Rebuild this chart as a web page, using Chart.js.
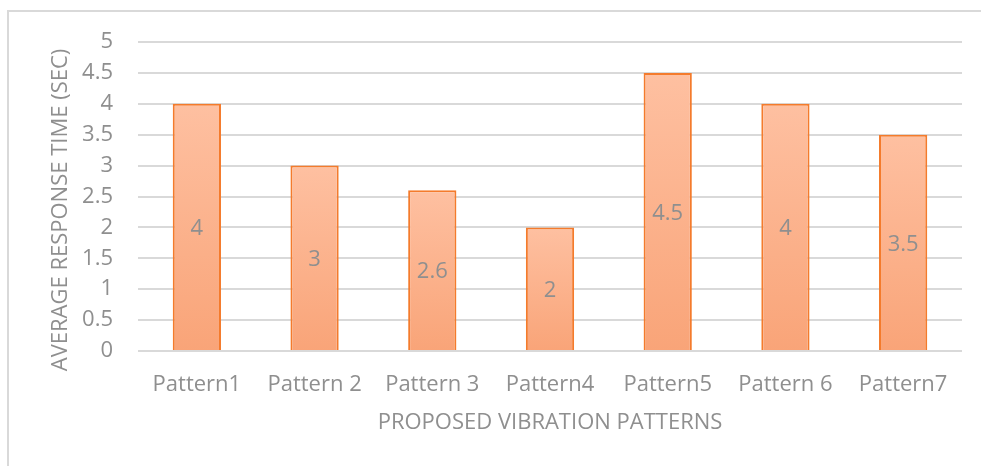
<!DOCTYPE html>
<html>
<head>
<meta charset="utf-8">
<script src="https://cdn.jsdelivr.net/npm/chart.js@4"></script>
<style>
  html, body { margin: 0; padding: 0; background: #fff; }
  #wrap { position: relative; width: 981px; height: 466px; overflow: hidden; }
  #frame { position: absolute; left: 7px; top: 10px; width: 1100px; height: 600px; border: 2px solid #d9d9d9; box-sizing: border-box; pointer-events: none; }
  canvas { position: absolute; left: 0; top: 0; }
</style>
</head>
<body>
<div id="wrap">
  <canvas id="c" width="981" height="466"></canvas>
  <div id="frame"></div>
</div>
<script>
const categories = ['Pattern1', 'Pattern 2', 'Pattern 3', 'Pattern4', 'Pattern5', 'Pattern 6', 'Pattern7'];
const responseTimes = [4, 3, 2.6, 2, 4.5, 4, 3.5];
const yTicks = [0, 0.5, 1, 1.5, 2, 2.5, 3, 3.5, 4, 4.5, 5];
const xTitle = 'PROPOSED VIBRATION PATTERNS';
const yTitle = 'AVERAGE RESPONSE TIME (SEC)';

const FONT = "'Open Sans', sans-serif";
const TEXT = '#8f8f8f';

function barGradient(ctx) {
  const chart = ctx.chart;
  const y = chart.scales.y;
  if (!y || ctx.dataIndex === undefined) return '#fbb28e';
  const v = ctx.dataset.data[ctx.dataIndex];
  const top = y.getPixelForValue(v);
  const bot = y.getPixelForValue(0);
  if (!isFinite(top) || !isFinite(bot) || top === bot) return '#fbb28e';
  const g = chart.ctx.createLinearGradient(0, top, 0, bot);
  g.addColorStop(0, '#fec0a1');
  g.addColorStop(1, '#f9a478');
  return g;
}

const labelsPlugin = {
  id: 'valueLabels',
  afterDatasetsDraw(chart) {
    const ctx = chart.ctx;
    const meta = chart.getDatasetMeta(0);
    ctx.save();
    ctx.font = '22px ' + FONT;
    ctx.fillStyle = TEXT;
    ctx.textAlign = 'center';
    ctx.textBaseline = 'middle';
    meta.data.forEach((bar, i) => {
      const v = chart.data.datasets[0].data[i];
      const mid = (bar.y + bar.base) / 2 + 2;
      ctx.fillText(String(v), bar.x, mid);
    });
    ctx.restore();
  }
};

const titlesPlugin = {
  id: 'axisTitles',
  afterDraw(chart) {
    const ctx = chart.ctx;
    const a = chart.chartArea;
    ctx.save();
    ctx.font = '22px ' + FONT;
    ctx.fillStyle = TEXT;
    ctx.textAlign = 'center';
    ctx.textBaseline = 'middle';
    ctx.fillText(xTitle, (a.left + a.right) / 2, 423);
    ctx.translate(61, 210);
    ctx.rotate(-Math.PI / 2);
    ctx.fillText(yTitle, 0, 0);
    ctx.restore();
  }
};

new Chart(document.getElementById('c'), {
  type: 'bar',
  data: {
    labels: categories,
    datasets: [{
      data: responseTimes,
      backgroundColor: barGradient,
      borderColor: '#f47b2c',
      borderWidth: 2,
      borderSkipped: 'start',
      categoryPercentage: 0.41,
      barPercentage: 1
    }]
  },
  options: {
    responsive: false,
    animation: false,
    devicePixelRatio: 1,
    layout: { padding: { left: 0, top: 42, right: 19, bottom: 0 } },
    plugins: { legend: { display: false }, tooltip: { enabled: false } },
    scales: {
      x: {
        grid: { display: false, drawTicks: false },
        border: { display: false },
        ticks: { color: TEXT, font: { family: FONT, size: 22 }, padding: 21, maxRotation: 0 },
        afterFit(s) { s.height = 115; }
      },
      y: {
        min: 0, max: 5,
        afterBuildTicks(s) { s.ticks = yTicks.map(v => ({ value: v })); },
        grid: { color: '#d9d9d9', lineWidth: 2, drawTicks: false },
        border: { display: false },
        ticks: { color: TEXT, font: { family: FONT, size: 22 }, padding: 25, callback: v => String(v) },
        afterFit(s) { s.width = 138; }
      }
    }
  },
  plugins: [labelsPlugin, titlesPlugin]
});
</script>
</body>
</html>
